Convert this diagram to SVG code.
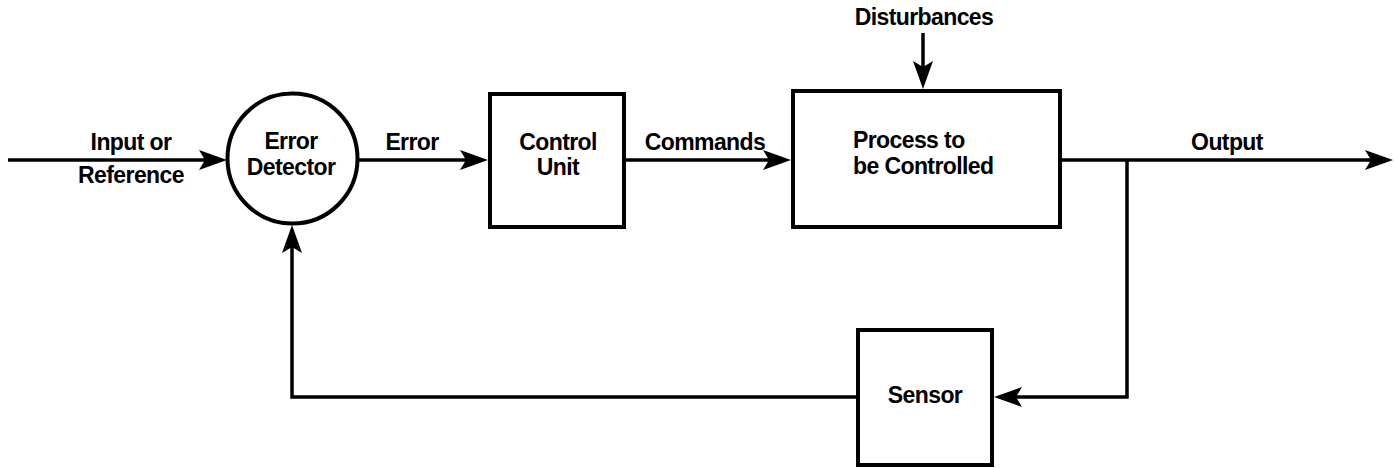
<svg xmlns="http://www.w3.org/2000/svg" width="1394" height="468" viewBox="0 0 1394 468">
  <style>
    .block { fill: #ffffff; stroke: #000000; stroke-width: 4; }
    .wire { fill: none; stroke: #000000; stroke-width: 3.5; stroke-linejoin: miter; }
    .label { font-family: "Liberation Sans", Arial, sans-serif; font-weight: bold; font-size: 23px; fill: #000000; letter-spacing: -0.6px; }
    .mid { text-anchor: middle; }
  </style>
  <defs>
    <marker id="arrow" viewBox="-20 -11 32 22" refX="0" refY="0" markerWidth="32" markerHeight="22" markerUnits="userSpaceOnUse" orient="auto">
      <path d="M10,0 L-18,-10 L-12,0 L-18,10 Z" fill="#000000"/>
    </marker>
  </defs>

  <rect width="1394" height="468" fill="#ffffff"/>

  <!-- signal paths -->
  <g id="connectors">
    <path class="wire" d="M8,160 H217" marker-end="url(#arrow)"/>
    <path class="wire" d="M358,160 H478" marker-end="url(#arrow)"/>
    <path class="wire" d="M626,160 H781" marker-end="url(#arrow)"/>
    <path class="wire" d="M923,33 V79" marker-end="url(#arrow)"/>
    <path class="wire" d="M1062,160 H1383" marker-end="url(#arrow)"/>
    <path class="wire" d="M1127,160 V397 H1004" marker-end="url(#arrow)"/>
    <path class="wire" d="M856,397 H292 V235" marker-end="url(#arrow)"/>
  </g>

  <!-- connector labels -->
  <g id="input-label">
    <text class="label mid" x="131" y="150">Input or</text>
    <text class="label mid" x="131" y="183">Reference</text>
  </g>
  <g id="error-label">
    <text class="label mid" x="412" y="150">Error</text>
  </g>
  <g id="commands-label">
    <text class="label mid" x="705" y="150">Commands</text>
  </g>
  <g id="disturbances-label">
    <text class="label mid" x="924" y="25">Disturbances</text>
  </g>
  <g id="output-label">
    <text class="label mid" x="1227" y="150">Output</text>
  </g>

  <!-- blocks -->
  <g id="error-detector">
    <circle class="block" cx="292.5" cy="158.5" r="65" stroke-width="3.5"/>
    <text class="label mid" x="291" y="149">Error</text>
    <text class="label mid" x="291" y="175">Detector</text>
  </g>
  <g id="control-unit">
    <rect class="block" x="490" y="94" width="134" height="133"/>
    <text class="label mid" x="558" y="150">Control</text>
    <text class="label mid" x="558" y="175">Unit</text>
  </g>
  <g id="process">
    <rect class="block" x="793" y="91" width="267" height="136"/>
    <text class="label" x="853" y="148">Process to</text>
    <text class="label" x="853" y="174">be Controlled</text>
  </g>
  <g id="sensor">
    <rect class="block" x="858" y="330" width="134" height="135"/>
    <text class="label mid" x="925" y="403">Sensor</text>
  </g>
</svg>
